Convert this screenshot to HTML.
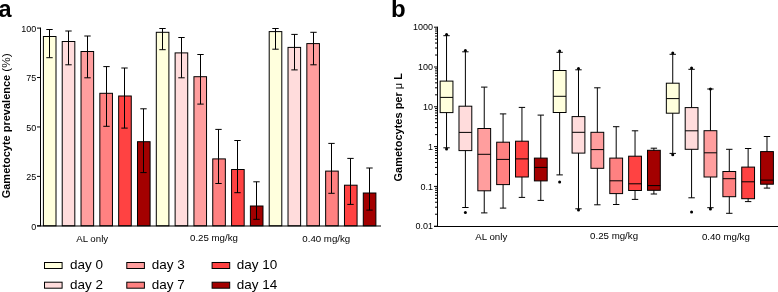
<!DOCTYPE html>
<html><head><meta charset="utf-8"><style>
html,body{margin:0;padding:0;background:#fff;width:778px;height:292px;overflow:hidden;}
svg{display:block;}
</style></head><body>
<svg width="778" height="292" viewBox="0 0 778 292" style="will-change:transform">
<rect width="778" height="292" fill="#fff"/>
<text x="-1.4" y="16.5" font-family="Liberation Sans, sans-serif" font-weight="bold" font-size="23.5">a</text>
<text transform="translate(9.9,198.3) rotate(-90)" text-anchor="start" font-family="Liberation Sans, sans-serif" font-weight="bold" font-size="11.0">Gametocyte prevalence <tspan font-weight="normal" font-size="11.8">(%)</tspan></text>
<line x1="40.5" y1="27.600000000000023" x2="40.5" y2="226.3" stroke="#000" stroke-width="1"/>
<line x1="37" y1="225.80" x2="40.5" y2="225.80" stroke="#000" stroke-width="1"/>
<text x="36.3" y="229.60" text-anchor="end" font-family="Liberation Sans, sans-serif" font-size="9">0</text>
<line x1="37" y1="176.38" x2="40.5" y2="176.38" stroke="#000" stroke-width="1"/>
<text x="36.3" y="180.18" text-anchor="end" font-family="Liberation Sans, sans-serif" font-size="9">25</text>
<line x1="37" y1="126.95" x2="40.5" y2="126.95" stroke="#000" stroke-width="1"/>
<text x="36.3" y="130.75" text-anchor="end" font-family="Liberation Sans, sans-serif" font-size="9">50</text>
<line x1="37" y1="77.53" x2="40.5" y2="77.53" stroke="#000" stroke-width="1"/>
<text x="36.3" y="81.33" text-anchor="end" font-family="Liberation Sans, sans-serif" font-size="9">75</text>
<line x1="37" y1="28.10" x2="40.5" y2="28.10" stroke="#000" stroke-width="1"/>
<text x="36.3" y="31.90" text-anchor="end" font-family="Liberation Sans, sans-serif" font-size="9">100</text>
<rect x="43.40" y="36.50" width="12.6" height="189.30" fill="#FFFFDD" stroke="#000" stroke-width="1"/>
<line x1="49.50" y1="29.50" x2="49.50" y2="57.70" stroke="#000" stroke-width="1"/>
<line x1="46.30" y1="29.50" x2="52.70" y2="29.50" stroke="#000" stroke-width="1"/>
<line x1="46.30" y1="57.70" x2="52.70" y2="57.70" stroke="#000" stroke-width="1"/>
<rect x="62.22" y="41.50" width="12.6" height="184.30" fill="#FFDCDC" stroke="#000" stroke-width="1"/>
<line x1="68.50" y1="31.00" x2="68.50" y2="64.80" stroke="#000" stroke-width="1"/>
<line x1="65.30" y1="31.00" x2="71.70" y2="31.00" stroke="#000" stroke-width="1"/>
<line x1="65.30" y1="64.80" x2="71.70" y2="64.80" stroke="#000" stroke-width="1"/>
<rect x="81.03" y="51.50" width="12.6" height="174.30" fill="#FF9E9E" stroke="#000" stroke-width="1"/>
<line x1="87.50" y1="36.00" x2="87.50" y2="77.80" stroke="#000" stroke-width="1"/>
<line x1="84.30" y1="36.00" x2="90.70" y2="36.00" stroke="#000" stroke-width="1"/>
<line x1="84.30" y1="77.80" x2="90.70" y2="77.80" stroke="#000" stroke-width="1"/>
<rect x="99.85" y="93.30" width="12.6" height="132.50" fill="#FF8181" stroke="#000" stroke-width="1"/>
<line x1="106.50" y1="66.60" x2="106.50" y2="126.30" stroke="#000" stroke-width="1"/>
<line x1="103.30" y1="66.60" x2="109.70" y2="66.60" stroke="#000" stroke-width="1"/>
<line x1="103.30" y1="126.30" x2="109.70" y2="126.30" stroke="#000" stroke-width="1"/>
<rect x="118.67" y="96.00" width="12.6" height="129.80" fill="#FF4242" stroke="#000" stroke-width="1"/>
<line x1="124.50" y1="68.00" x2="124.50" y2="128.10" stroke="#000" stroke-width="1"/>
<line x1="121.30" y1="68.00" x2="127.70" y2="68.00" stroke="#000" stroke-width="1"/>
<line x1="121.30" y1="128.10" x2="127.70" y2="128.10" stroke="#000" stroke-width="1"/>
<rect x="137.49" y="141.70" width="12.6" height="84.10" fill="#A30000" stroke="#000" stroke-width="1"/>
<line x1="143.50" y1="108.80" x2="143.50" y2="172.60" stroke="#000" stroke-width="1"/>
<line x1="140.30" y1="108.80" x2="146.70" y2="108.80" stroke="#000" stroke-width="1"/>
<line x1="140.30" y1="172.60" x2="146.70" y2="172.60" stroke="#000" stroke-width="1"/>
<rect x="156.30" y="32.30" width="12.6" height="193.50" fill="#FFFFDD" stroke="#000" stroke-width="1"/>
<line x1="162.50" y1="28.50" x2="162.50" y2="49.70" stroke="#000" stroke-width="1"/>
<line x1="159.30" y1="28.50" x2="165.70" y2="28.50" stroke="#000" stroke-width="1"/>
<line x1="159.30" y1="49.70" x2="165.70" y2="49.70" stroke="#000" stroke-width="1"/>
<rect x="175.12" y="52.90" width="12.6" height="172.90" fill="#FFDCDC" stroke="#000" stroke-width="1"/>
<line x1="181.50" y1="37.50" x2="181.50" y2="77.80" stroke="#000" stroke-width="1"/>
<line x1="178.30" y1="37.50" x2="184.70" y2="37.50" stroke="#000" stroke-width="1"/>
<line x1="178.30" y1="77.80" x2="184.70" y2="77.80" stroke="#000" stroke-width="1"/>
<rect x="193.94" y="76.70" width="12.6" height="149.10" fill="#FF9E9E" stroke="#000" stroke-width="1"/>
<line x1="200.50" y1="54.50" x2="200.50" y2="104.10" stroke="#000" stroke-width="1"/>
<line x1="197.30" y1="54.50" x2="203.70" y2="54.50" stroke="#000" stroke-width="1"/>
<line x1="197.30" y1="104.10" x2="203.70" y2="104.10" stroke="#000" stroke-width="1"/>
<rect x="212.75" y="158.90" width="12.6" height="66.90" fill="#FF8181" stroke="#000" stroke-width="1"/>
<line x1="218.50" y1="129.40" x2="218.50" y2="183.50" stroke="#000" stroke-width="1"/>
<line x1="215.30" y1="129.40" x2="221.70" y2="129.40" stroke="#000" stroke-width="1"/>
<line x1="215.30" y1="183.50" x2="221.70" y2="183.50" stroke="#000" stroke-width="1"/>
<rect x="231.57" y="169.50" width="12.6" height="56.30" fill="#FF4242" stroke="#000" stroke-width="1"/>
<line x1="237.50" y1="140.50" x2="237.50" y2="192.70" stroke="#000" stroke-width="1"/>
<line x1="234.30" y1="140.50" x2="240.70" y2="140.50" stroke="#000" stroke-width="1"/>
<line x1="234.30" y1="192.70" x2="240.70" y2="192.70" stroke="#000" stroke-width="1"/>
<rect x="250.39" y="206.00" width="12.6" height="19.80" fill="#A30000" stroke="#000" stroke-width="1"/>
<line x1="256.50" y1="181.80" x2="256.50" y2="219.30" stroke="#000" stroke-width="1"/>
<line x1="253.30" y1="181.80" x2="259.70" y2="181.80" stroke="#000" stroke-width="1"/>
<line x1="253.30" y1="219.30" x2="259.70" y2="219.30" stroke="#000" stroke-width="1"/>
<rect x="269.20" y="31.60" width="12.6" height="194.20" fill="#FFFFDD" stroke="#000" stroke-width="1"/>
<line x1="275.50" y1="28.50" x2="275.50" y2="49.20" stroke="#000" stroke-width="1"/>
<line x1="272.30" y1="28.50" x2="278.70" y2="28.50" stroke="#000" stroke-width="1"/>
<line x1="272.30" y1="49.20" x2="278.70" y2="49.20" stroke="#000" stroke-width="1"/>
<rect x="288.02" y="47.40" width="12.6" height="178.40" fill="#FFDCDC" stroke="#000" stroke-width="1"/>
<line x1="294.50" y1="34.40" x2="294.50" y2="69.90" stroke="#000" stroke-width="1"/>
<line x1="291.30" y1="34.40" x2="297.70" y2="34.40" stroke="#000" stroke-width="1"/>
<line x1="291.30" y1="69.90" x2="297.70" y2="69.90" stroke="#000" stroke-width="1"/>
<rect x="306.84" y="43.60" width="12.6" height="182.20" fill="#FF9E9E" stroke="#000" stroke-width="1"/>
<line x1="313.50" y1="32.30" x2="313.50" y2="64.80" stroke="#000" stroke-width="1"/>
<line x1="310.30" y1="32.30" x2="316.70" y2="32.30" stroke="#000" stroke-width="1"/>
<line x1="310.30" y1="64.80" x2="316.70" y2="64.80" stroke="#000" stroke-width="1"/>
<rect x="325.65" y="171.10" width="12.6" height="54.70" fill="#FF8181" stroke="#000" stroke-width="1"/>
<line x1="331.50" y1="143.40" x2="331.50" y2="193.30" stroke="#000" stroke-width="1"/>
<line x1="328.30" y1="143.40" x2="334.70" y2="143.40" stroke="#000" stroke-width="1"/>
<line x1="328.30" y1="193.30" x2="334.70" y2="193.30" stroke="#000" stroke-width="1"/>
<rect x="344.47" y="185.20" width="12.6" height="40.60" fill="#FF4242" stroke="#000" stroke-width="1"/>
<line x1="350.50" y1="158.40" x2="350.50" y2="204.40" stroke="#000" stroke-width="1"/>
<line x1="347.30" y1="158.40" x2="353.70" y2="158.40" stroke="#000" stroke-width="1"/>
<line x1="347.30" y1="204.40" x2="353.70" y2="204.40" stroke="#000" stroke-width="1"/>
<rect x="363.29" y="193.00" width="12.6" height="32.80" fill="#A30000" stroke="#000" stroke-width="1"/>
<line x1="369.50" y1="168.00" x2="369.50" y2="210.10" stroke="#000" stroke-width="1"/>
<line x1="366.30" y1="168.00" x2="372.70" y2="168.00" stroke="#000" stroke-width="1"/>
<line x1="366.30" y1="210.10" x2="372.70" y2="210.10" stroke="#000" stroke-width="1"/>
<line x1="37" y1="226" x2="381" y2="226" stroke="#000" stroke-width="1.05"/>
<text x="76.2" y="241.8" font-family="Liberation Sans, sans-serif" font-size="9.7">AL only</text>
<text x="190" y="241.2" font-family="Liberation Sans, sans-serif" font-size="9.7">0.25 mg/kg</text>
<text x="302.3" y="241.6" font-family="Liberation Sans, sans-serif" font-size="9.7">0.40 mg/kg</text>
<rect x="44.5" y="262.5" width="17.6" height="6" fill="#FFFFDD" stroke="#000" stroke-width="1"/>
<text x="70" y="269.2" font-family="Liberation Sans, sans-serif" font-size="13.5">day 0</text>
<rect x="44.5" y="282.2" width="17.6" height="6" fill="#FFDCDC" stroke="#000" stroke-width="1"/>
<text x="70" y="288.7" font-family="Liberation Sans, sans-serif" font-size="13.5">day 2</text>
<rect x="126.8" y="262.5" width="17.6" height="6" fill="#FF9E9E" stroke="#000" stroke-width="1"/>
<text x="151.7" y="269.2" font-family="Liberation Sans, sans-serif" font-size="13.5">day 3</text>
<rect x="126.8" y="282.2" width="17.6" height="6" fill="#FF8181" stroke="#000" stroke-width="1"/>
<text x="151.7" y="288.7" font-family="Liberation Sans, sans-serif" font-size="13.5">day 7</text>
<rect x="212.1" y="262.5" width="17.6" height="6" fill="#FF4242" stroke="#000" stroke-width="1"/>
<text x="236.7" y="269.2" font-family="Liberation Sans, sans-serif" font-size="13.5">day 10</text>
<rect x="212.1" y="282.2" width="17.6" height="6" fill="#A30000" stroke="#000" stroke-width="1"/>
<text x="236.7" y="288.7" font-family="Liberation Sans, sans-serif" font-size="13.5">day 14</text>
<text x="391" y="17" font-family="Liberation Sans, sans-serif" font-weight="bold" font-size="24">b</text>
<text transform="translate(402,127.3) rotate(-90)" text-anchor="middle" font-family="Liberation Sans, sans-serif" font-weight="bold" font-size="11">Gametocytes per <tspan font-weight="normal">μ</tspan> L</text>
<line x1="437.5" y1="26.70" x2="437.5" y2="226.5" stroke="#000" stroke-width="1"/>
<line x1="434" y1="226.20" x2="437.5" y2="226.20" stroke="#000" stroke-width="1"/>
<text x="433" y="229.40" text-anchor="end" font-family="Liberation Sans, sans-serif" font-size="9">0.01</text>
<line x1="435" y1="214.22" x2="437.5" y2="214.22" stroke="#000" stroke-width="1"/>
<line x1="435" y1="207.21" x2="437.5" y2="207.21" stroke="#000" stroke-width="1"/>
<line x1="435" y1="202.24" x2="437.5" y2="202.24" stroke="#000" stroke-width="1"/>
<line x1="435" y1="198.38" x2="437.5" y2="198.38" stroke="#000" stroke-width="1"/>
<line x1="435" y1="195.23" x2="437.5" y2="195.23" stroke="#000" stroke-width="1"/>
<line x1="435" y1="192.57" x2="437.5" y2="192.57" stroke="#000" stroke-width="1"/>
<line x1="435" y1="190.26" x2="437.5" y2="190.26" stroke="#000" stroke-width="1"/>
<line x1="435" y1="188.22" x2="437.5" y2="188.22" stroke="#000" stroke-width="1"/>
<line x1="434" y1="186.40" x2="437.5" y2="186.40" stroke="#000" stroke-width="1"/>
<text x="433" y="189.60" text-anchor="end" font-family="Liberation Sans, sans-serif" font-size="9">0.1</text>
<line x1="435" y1="174.42" x2="437.5" y2="174.42" stroke="#000" stroke-width="1"/>
<line x1="435" y1="167.41" x2="437.5" y2="167.41" stroke="#000" stroke-width="1"/>
<line x1="435" y1="162.44" x2="437.5" y2="162.44" stroke="#000" stroke-width="1"/>
<line x1="435" y1="158.58" x2="437.5" y2="158.58" stroke="#000" stroke-width="1"/>
<line x1="435" y1="155.43" x2="437.5" y2="155.43" stroke="#000" stroke-width="1"/>
<line x1="435" y1="152.77" x2="437.5" y2="152.77" stroke="#000" stroke-width="1"/>
<line x1="435" y1="150.46" x2="437.5" y2="150.46" stroke="#000" stroke-width="1"/>
<line x1="435" y1="148.42" x2="437.5" y2="148.42" stroke="#000" stroke-width="1"/>
<line x1="434" y1="146.60" x2="437.5" y2="146.60" stroke="#000" stroke-width="1"/>
<text x="433" y="149.80" text-anchor="end" font-family="Liberation Sans, sans-serif" font-size="9">1</text>
<line x1="435" y1="134.62" x2="437.5" y2="134.62" stroke="#000" stroke-width="1"/>
<line x1="435" y1="127.61" x2="437.5" y2="127.61" stroke="#000" stroke-width="1"/>
<line x1="435" y1="122.64" x2="437.5" y2="122.64" stroke="#000" stroke-width="1"/>
<line x1="435" y1="118.78" x2="437.5" y2="118.78" stroke="#000" stroke-width="1"/>
<line x1="435" y1="115.63" x2="437.5" y2="115.63" stroke="#000" stroke-width="1"/>
<line x1="435" y1="112.97" x2="437.5" y2="112.97" stroke="#000" stroke-width="1"/>
<line x1="435" y1="110.66" x2="437.5" y2="110.66" stroke="#000" stroke-width="1"/>
<line x1="435" y1="108.62" x2="437.5" y2="108.62" stroke="#000" stroke-width="1"/>
<line x1="434" y1="106.80" x2="437.5" y2="106.80" stroke="#000" stroke-width="1"/>
<text x="433" y="110.00" text-anchor="end" font-family="Liberation Sans, sans-serif" font-size="9">10</text>
<line x1="435" y1="94.82" x2="437.5" y2="94.82" stroke="#000" stroke-width="1"/>
<line x1="435" y1="87.81" x2="437.5" y2="87.81" stroke="#000" stroke-width="1"/>
<line x1="435" y1="82.84" x2="437.5" y2="82.84" stroke="#000" stroke-width="1"/>
<line x1="435" y1="78.98" x2="437.5" y2="78.98" stroke="#000" stroke-width="1"/>
<line x1="435" y1="75.83" x2="437.5" y2="75.83" stroke="#000" stroke-width="1"/>
<line x1="435" y1="73.17" x2="437.5" y2="73.17" stroke="#000" stroke-width="1"/>
<line x1="435" y1="70.86" x2="437.5" y2="70.86" stroke="#000" stroke-width="1"/>
<line x1="435" y1="68.82" x2="437.5" y2="68.82" stroke="#000" stroke-width="1"/>
<line x1="434" y1="67.00" x2="437.5" y2="67.00" stroke="#000" stroke-width="1"/>
<text x="433" y="70.20" text-anchor="end" font-family="Liberation Sans, sans-serif" font-size="9">100</text>
<line x1="435" y1="55.02" x2="437.5" y2="55.02" stroke="#000" stroke-width="1"/>
<line x1="435" y1="48.01" x2="437.5" y2="48.01" stroke="#000" stroke-width="1"/>
<line x1="435" y1="43.04" x2="437.5" y2="43.04" stroke="#000" stroke-width="1"/>
<line x1="435" y1="39.18" x2="437.5" y2="39.18" stroke="#000" stroke-width="1"/>
<line x1="435" y1="36.03" x2="437.5" y2="36.03" stroke="#000" stroke-width="1"/>
<line x1="435" y1="33.37" x2="437.5" y2="33.37" stroke="#000" stroke-width="1"/>
<line x1="435" y1="31.06" x2="437.5" y2="31.06" stroke="#000" stroke-width="1"/>
<line x1="435" y1="29.02" x2="437.5" y2="29.02" stroke="#000" stroke-width="1"/>
<line x1="434" y1="27.20" x2="437.5" y2="27.20" stroke="#000" stroke-width="1"/>
<text x="433" y="30.40" text-anchor="end" font-family="Liberation Sans, sans-serif" font-size="9">1000</text>
<line x1="434" y1="226.5" x2="778" y2="226.5" stroke="#000" stroke-width="1"/>
<text x="475.3" y="239.7" font-family="Liberation Sans, sans-serif" font-size="9.7">AL only</text>
<text x="590.1" y="239.2" font-family="Liberation Sans, sans-serif" font-size="9.7">0.25 mg/kg</text>
<text x="701.9" y="240.0" font-family="Liberation Sans, sans-serif" font-size="9.7">0.40 mg/kg</text>
<line x1="446.54" y1="35.70" x2="446.54" y2="147.80" stroke="#000" stroke-width="1"/>
<line x1="443.34" y1="35.70" x2="449.74" y2="35.70" stroke="#000" stroke-width="1"/>
<line x1="443.34" y1="147.80" x2="449.74" y2="147.80" stroke="#000" stroke-width="1"/>
<rect x="440.14" y="81.10" width="12.8" height="31.50" fill="#FFFFDD" stroke="#000" stroke-width="1"/>
<line x1="440.14" y1="97.40" x2="452.94" y2="97.40" stroke="#000" stroke-width="1"/>
<circle cx="446.54" cy="34.40" r="1.5" fill="#000"/>
<circle cx="446.54" cy="149.10" r="1.5" fill="#000"/>
<line x1="465.39" y1="51.80" x2="465.39" y2="207.50" stroke="#000" stroke-width="1"/>
<line x1="462.19" y1="51.80" x2="468.59" y2="51.80" stroke="#000" stroke-width="1"/>
<line x1="462.19" y1="207.50" x2="468.59" y2="207.50" stroke="#000" stroke-width="1"/>
<rect x="458.99" y="106.20" width="12.8" height="44.40" fill="#FFDCDC" stroke="#000" stroke-width="1"/>
<line x1="458.99" y1="132.40" x2="471.79" y2="132.40" stroke="#000" stroke-width="1"/>
<circle cx="465.39" cy="50.50" r="1.5" fill="#000"/>
<circle cx="465.39" cy="212.40" r="1.5" fill="#000"/>
<line x1="484.24" y1="87.10" x2="484.24" y2="212.90" stroke="#000" stroke-width="1"/>
<line x1="481.04" y1="87.10" x2="487.44" y2="87.10" stroke="#000" stroke-width="1"/>
<line x1="481.04" y1="212.90" x2="487.44" y2="212.90" stroke="#000" stroke-width="1"/>
<rect x="477.84" y="128.50" width="12.8" height="62.30" fill="#FF9E9E" stroke="#000" stroke-width="1"/>
<line x1="477.84" y1="154.30" x2="490.64" y2="154.30" stroke="#000" stroke-width="1"/>
<line x1="503.09" y1="113.90" x2="503.09" y2="208.10" stroke="#000" stroke-width="1"/>
<line x1="499.89" y1="113.90" x2="506.29" y2="113.90" stroke="#000" stroke-width="1"/>
<line x1="499.89" y1="208.10" x2="506.29" y2="208.10" stroke="#000" stroke-width="1"/>
<rect x="496.69" y="142.20" width="12.8" height="42.40" fill="#FF8181" stroke="#000" stroke-width="1"/>
<line x1="496.69" y1="159.40" x2="509.49" y2="159.40" stroke="#000" stroke-width="1"/>
<line x1="521.94" y1="107.40" x2="521.94" y2="197.40" stroke="#000" stroke-width="1"/>
<line x1="518.74" y1="107.40" x2="525.14" y2="107.40" stroke="#000" stroke-width="1"/>
<line x1="518.74" y1="197.40" x2="525.14" y2="197.40" stroke="#000" stroke-width="1"/>
<rect x="515.54" y="141.20" width="12.8" height="35.80" fill="#FF4242" stroke="#000" stroke-width="1"/>
<line x1="515.54" y1="158.90" x2="528.34" y2="158.90" stroke="#000" stroke-width="1"/>
<line x1="540.79" y1="115.10" x2="540.79" y2="200.40" stroke="#000" stroke-width="1"/>
<line x1="537.59" y1="115.10" x2="543.99" y2="115.10" stroke="#000" stroke-width="1"/>
<line x1="537.59" y1="200.40" x2="543.99" y2="200.40" stroke="#000" stroke-width="1"/>
<rect x="534.39" y="158.10" width="12.8" height="22.80" fill="#A30000" stroke="#000" stroke-width="1"/>
<line x1="534.39" y1="167.40" x2="547.19" y2="167.40" stroke="#000" stroke-width="1"/>
<line x1="559.64" y1="52.30" x2="559.64" y2="174.90" stroke="#000" stroke-width="1"/>
<line x1="556.44" y1="52.30" x2="562.84" y2="52.30" stroke="#000" stroke-width="1"/>
<line x1="556.44" y1="174.90" x2="562.84" y2="174.90" stroke="#000" stroke-width="1"/>
<rect x="553.24" y="70.50" width="12.8" height="42.00" fill="#FFFFDD" stroke="#000" stroke-width="1"/>
<line x1="553.24" y1="96.30" x2="566.04" y2="96.30" stroke="#000" stroke-width="1"/>
<circle cx="559.64" cy="51.00" r="1.5" fill="#000"/>
<circle cx="559.64" cy="181.90" r="1.5" fill="#000"/>
<line x1="578.49" y1="69.80" x2="578.49" y2="208.80" stroke="#000" stroke-width="1"/>
<line x1="575.29" y1="69.80" x2="581.69" y2="69.80" stroke="#000" stroke-width="1"/>
<line x1="575.29" y1="208.80" x2="581.69" y2="208.80" stroke="#000" stroke-width="1"/>
<rect x="572.09" y="116.60" width="12.8" height="36.50" fill="#FFDCDC" stroke="#000" stroke-width="1"/>
<line x1="572.09" y1="132.30" x2="584.89" y2="132.30" stroke="#000" stroke-width="1"/>
<circle cx="578.49" cy="68.50" r="1.5" fill="#000"/>
<circle cx="578.49" cy="210.10" r="1.5" fill="#000"/>
<line x1="597.34" y1="87.80" x2="597.34" y2="204.80" stroke="#000" stroke-width="1"/>
<line x1="594.14" y1="87.80" x2="600.54" y2="87.80" stroke="#000" stroke-width="1"/>
<line x1="594.14" y1="204.80" x2="600.54" y2="204.80" stroke="#000" stroke-width="1"/>
<rect x="590.94" y="132.30" width="12.8" height="36.00" fill="#FF9E9E" stroke="#000" stroke-width="1"/>
<line x1="590.94" y1="149.60" x2="603.74" y2="149.60" stroke="#000" stroke-width="1"/>
<line x1="616.19" y1="126.70" x2="616.19" y2="204.50" stroke="#000" stroke-width="1"/>
<line x1="612.99" y1="126.70" x2="619.39" y2="126.70" stroke="#000" stroke-width="1"/>
<line x1="612.99" y1="204.50" x2="619.39" y2="204.50" stroke="#000" stroke-width="1"/>
<rect x="609.79" y="158.10" width="12.8" height="35.50" fill="#FF8181" stroke="#000" stroke-width="1"/>
<line x1="609.79" y1="180.80" x2="622.59" y2="180.80" stroke="#000" stroke-width="1"/>
<line x1="635.04" y1="130.80" x2="635.04" y2="199.40" stroke="#000" stroke-width="1"/>
<line x1="631.84" y1="130.80" x2="638.24" y2="130.80" stroke="#000" stroke-width="1"/>
<line x1="631.84" y1="199.40" x2="638.24" y2="199.40" stroke="#000" stroke-width="1"/>
<rect x="628.64" y="156.20" width="12.8" height="34.30" fill="#FF4242" stroke="#000" stroke-width="1"/>
<line x1="628.64" y1="183.80" x2="641.44" y2="183.80" stroke="#000" stroke-width="1"/>
<line x1="653.89" y1="148.20" x2="653.89" y2="194.00" stroke="#000" stroke-width="1"/>
<line x1="650.69" y1="148.20" x2="657.09" y2="148.20" stroke="#000" stroke-width="1"/>
<line x1="650.69" y1="194.00" x2="657.09" y2="194.00" stroke="#000" stroke-width="1"/>
<rect x="647.49" y="150.30" width="12.8" height="40.00" fill="#A30000" stroke="#000" stroke-width="1"/>
<line x1="647.49" y1="185.60" x2="660.29" y2="185.60" stroke="#000" stroke-width="1"/>
<line x1="672.74" y1="54.30" x2="672.74" y2="153.40" stroke="#000" stroke-width="1"/>
<line x1="669.54" y1="54.30" x2="675.94" y2="54.30" stroke="#000" stroke-width="1"/>
<line x1="669.54" y1="153.40" x2="675.94" y2="153.40" stroke="#000" stroke-width="1"/>
<rect x="666.34" y="83.20" width="12.8" height="30.00" fill="#FFFFDD" stroke="#000" stroke-width="1"/>
<line x1="666.34" y1="98.60" x2="679.14" y2="98.60" stroke="#000" stroke-width="1"/>
<circle cx="672.74" cy="53.00" r="1.5" fill="#000"/>
<circle cx="672.74" cy="154.70" r="1.5" fill="#000"/>
<line x1="691.59" y1="69.30" x2="691.59" y2="197.80" stroke="#000" stroke-width="1"/>
<line x1="688.39" y1="69.30" x2="694.79" y2="69.30" stroke="#000" stroke-width="1"/>
<line x1="688.39" y1="197.80" x2="694.79" y2="197.80" stroke="#000" stroke-width="1"/>
<rect x="685.19" y="107.60" width="12.8" height="41.70" fill="#FFDCDC" stroke="#000" stroke-width="1"/>
<line x1="685.19" y1="130.80" x2="697.99" y2="130.80" stroke="#000" stroke-width="1"/>
<circle cx="691.59" cy="68.00" r="1.5" fill="#000"/>
<circle cx="691.59" cy="212.00" r="1.5" fill="#000"/>
<line x1="710.44" y1="89.00" x2="710.44" y2="207.70" stroke="#000" stroke-width="1"/>
<line x1="707.24" y1="89.00" x2="713.64" y2="89.00" stroke="#000" stroke-width="1"/>
<line x1="707.24" y1="207.70" x2="713.64" y2="207.70" stroke="#000" stroke-width="1"/>
<rect x="704.04" y="130.70" width="12.8" height="46.30" fill="#FF9E9E" stroke="#000" stroke-width="1"/>
<line x1="704.04" y1="152.80" x2="716.84" y2="152.80" stroke="#000" stroke-width="1"/>
<circle cx="710.44" cy="89.00" r="1.5" fill="#000"/>
<circle cx="710.44" cy="209.00" r="1.5" fill="#000"/>
<line x1="729.29" y1="149.30" x2="729.29" y2="213.30" stroke="#000" stroke-width="1"/>
<line x1="726.09" y1="149.30" x2="732.49" y2="149.30" stroke="#000" stroke-width="1"/>
<line x1="726.09" y1="213.30" x2="732.49" y2="213.30" stroke="#000" stroke-width="1"/>
<rect x="722.89" y="171.50" width="12.8" height="25.20" fill="#FF8181" stroke="#000" stroke-width="1"/>
<line x1="722.89" y1="178.70" x2="735.69" y2="178.70" stroke="#000" stroke-width="1"/>
<line x1="748.14" y1="148.50" x2="748.14" y2="201.60" stroke="#000" stroke-width="1"/>
<line x1="744.94" y1="148.50" x2="751.34" y2="148.50" stroke="#000" stroke-width="1"/>
<line x1="744.94" y1="201.60" x2="751.34" y2="201.60" stroke="#000" stroke-width="1"/>
<rect x="741.74" y="167.10" width="12.8" height="31.60" fill="#FF4242" stroke="#000" stroke-width="1"/>
<line x1="741.74" y1="181.80" x2="754.54" y2="181.80" stroke="#000" stroke-width="1"/>
<line x1="766.99" y1="136.50" x2="766.99" y2="188.10" stroke="#000" stroke-width="1"/>
<line x1="763.79" y1="136.50" x2="770.19" y2="136.50" stroke="#000" stroke-width="1"/>
<line x1="763.79" y1="188.10" x2="770.19" y2="188.10" stroke="#000" stroke-width="1"/>
<rect x="760.59" y="151.60" width="12.8" height="32.60" fill="#A30000" stroke="#000" stroke-width="1"/>
<line x1="760.59" y1="180.10" x2="773.39" y2="180.10" stroke="#000" stroke-width="1"/>
</svg>
</body></html>
